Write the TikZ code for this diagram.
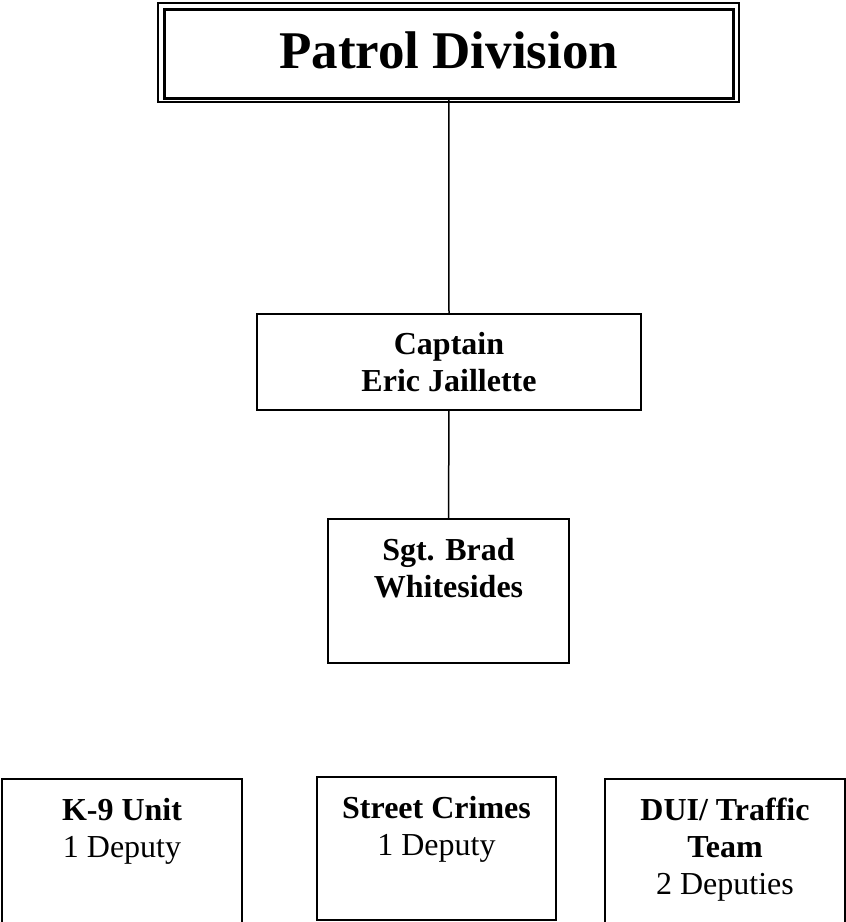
\documentclass[tikz,border=0pt]{standalone}
\usepackage{fontspec}
\setmainfont{Liberation Serif}

\tikzset{
    orgbox/.style={draw, line width=1.5pt, inner sep=0pt, outer sep=0pt},
    boxtext/.style={align=center, inner sep=0pt, anchor=north, font=\fontsize{32}{37}\selectfont},
    link/.style={line width=1.5pt},
}

\begin{document}
\begin{tikzpicture}[x=1pt, y=-1pt]
        \useasboundingbox (0,0) rectangle (846,922);
        % title, double frame
        \node[draw, line width=3pt, outer sep=0pt, minimum width=568.5pt, minimum height=89pt,
              text depth=8pt, font=\fontsize{53}{60}\selectfont\bfseries] (title) at (448.75,54) {Patrol Division};
        \draw[line width=1.5pt] ([shift={(-6.5,-6.5)}]title.north west) rectangle ([shift={(6,3.5)}]title.south east);
        \node[orgbox, minimum width=384pt, minimum height=96pt, align=center,
              font=\fontsize{32}{37}\selectfont] (capt) at (449,362) {\textbf{Captain}\\\textbf{Eric Jaillette}};
        \node[orgbox, minimum width=241pt, minimum height=144pt] (sgt) at (448.5,591) {};
        \node[boxtext] (sgttext) at (448.5,538) {\textbf{Sgt. Brad}\\\textbf{Whitesides}};
        \path[draw, link] (title.south) -- (capt.north);
        \path[draw, link] (capt.south) -- (sgt.north);
        % units
        \foreach \n/\x/\y/\w/\h/\t in {k9/122/852/240/146/{\textbf{K-9 Unit}\\1 Deputy},
                street/436.5/848.5/239/143/{\textbf{Street Crimes}\\1 Deputy},
                dui/725/852/240/146/{\textbf{DUI/ Traffic}\\\textbf{Team}\\2 Deputies}} {
            \node[orgbox, minimum width=\w pt, minimum height=\h pt] (\n) at (\x,\y) {};
            \node[boxtext] (\n text) at (\x,{\y-\h/2+19}) {\t};
        }
\end{tikzpicture}
\end{document}
